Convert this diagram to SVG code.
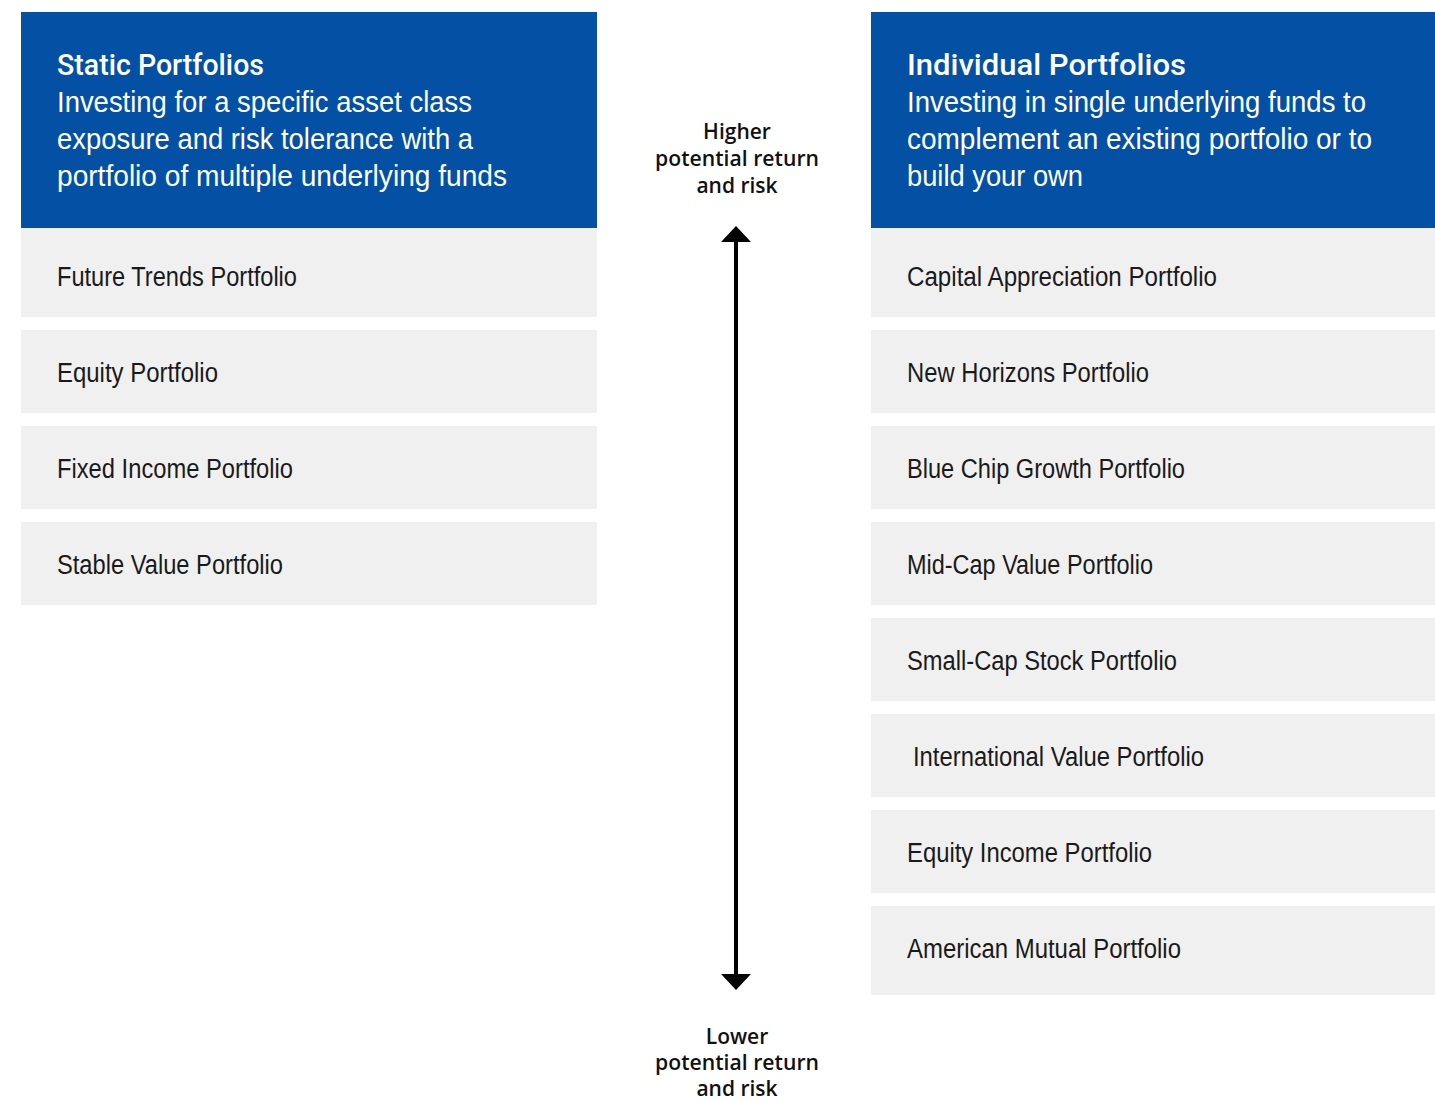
<svg xmlns="http://www.w3.org/2000/svg" width="1435" height="1101" viewBox="0 0 1435 1101">
<style>
.hdr{fill:#0450A4}
.box{fill:#F0F0F0}
.ttl{font-family:Roboto,"Liberation Sans",Arial,sans-serif;font-size:30px;font-weight:500;fill:#fff}
.sub{font-family:"Liberation Sans",Arial,sans-serif;font-size:29px;fill:#fff}
.item{font-family:"Liberation Sans",Arial,sans-serif;font-size:27px;fill:#1a1a1a}
.axis{font-family:"Open Sans","Liberation Sans",Arial,sans-serif;font-size:21px;font-weight:600;fill:#111;text-anchor:middle}
</style>
<rect width="1435" height="1101" fill="#fff"/>

<g id="static-header">
<rect class="hdr" x="21" y="12" width="576" height="216"/>
<text class="ttl" x="57" y="75" textLength="207" lengthAdjust="spacingAndGlyphs">Static Portfolios</text>
<text class="sub" x="57" y="112" textLength="415" lengthAdjust="spacingAndGlyphs">Investing for a specific asset class</text>
<text class="sub" x="57" y="149" textLength="416" lengthAdjust="spacingAndGlyphs">exposure and risk tolerance with a</text>
<text class="sub" x="57" y="186" textLength="450" lengthAdjust="spacingAndGlyphs">portfolio of multiple underlying funds</text>
</g>
<g id="static-future-trends"><rect class="box" x="21" y="228" width="576" height="89"/><text class="item" x="57" y="286" textLength="240" lengthAdjust="spacingAndGlyphs">Future Trends Portfolio</text></g>
<g id="static-equity"><rect class="box" x="21" y="330" width="576" height="83"/><text class="item" x="57" y="382" textLength="161" lengthAdjust="spacingAndGlyphs">Equity Portfolio</text></g>
<g id="static-fixed-income"><rect class="box" x="21" y="426" width="576" height="83"/><text class="item" x="57" y="478" textLength="236" lengthAdjust="spacingAndGlyphs">Fixed Income Portfolio</text></g>
<g id="static-stable-value"><rect class="box" x="21" y="522" width="576" height="83"/><text class="item" x="57" y="574" textLength="226" lengthAdjust="spacingAndGlyphs">Stable Value Portfolio</text></g>

<g id="individual-header">
<rect class="hdr" x="871" y="12" width="564" height="216"/>
<text class="ttl" x="907" y="75" textLength="279" lengthAdjust="spacingAndGlyphs">Individual Portfolios</text>
<text class="sub" x="907" y="112" textLength="459" lengthAdjust="spacingAndGlyphs">Investing in single underlying funds to</text>
<text class="sub" x="907" y="149" textLength="465" lengthAdjust="spacingAndGlyphs">complement an existing portfolio or to</text>
<text class="sub" x="907" y="186" textLength="176" lengthAdjust="spacingAndGlyphs">build your own</text>
</g>
<g id="ind-capital-appreciation"><rect class="box" x="871" y="228" width="564" height="89"/><text class="item" x="907" y="286" textLength="310" lengthAdjust="spacingAndGlyphs">Capital Appreciation Portfolio</text></g>
<g id="ind-new-horizons"><rect class="box" x="871" y="330" width="564" height="83"/><text class="item" x="907" y="382" textLength="242" lengthAdjust="spacingAndGlyphs">New Horizons Portfolio</text></g>
<g id="ind-blue-chip"><rect class="box" x="871" y="426" width="564" height="83"/><text class="item" x="907" y="478" textLength="278" lengthAdjust="spacingAndGlyphs">Blue Chip Growth Portfolio</text></g>
<g id="ind-mid-cap"><rect class="box" x="871" y="522" width="564" height="83"/><text class="item" x="907" y="574" textLength="246" lengthAdjust="spacingAndGlyphs">Mid-Cap Value Portfolio</text></g>
<g id="ind-small-cap"><rect class="box" x="871" y="618" width="564" height="83"/><text class="item" x="907" y="670" textLength="270" lengthAdjust="spacingAndGlyphs">Small-Cap Stock Portfolio</text></g>
<g id="ind-international"><rect class="box" x="871" y="714" width="564" height="83"/><text class="item" x="913" y="766" textLength="291" lengthAdjust="spacingAndGlyphs">International Value Portfolio</text></g>
<g id="ind-equity-income"><rect class="box" x="871" y="810" width="564" height="83"/><text class="item" x="907" y="862" textLength="245" lengthAdjust="spacingAndGlyphs">Equity Income Portfolio</text></g>
<g id="ind-american-mutual"><rect class="box" x="871" y="906" width="564" height="89"/><text class="item" x="907" y="958" textLength="274" lengthAdjust="spacingAndGlyphs">American Mutual Portfolio</text></g>

<g id="label-higher">
<text class="axis" x="737" y="139">Higher</text>
<text class="axis" x="737" y="166" textLength="164" lengthAdjust="spacingAndGlyphs">potential return</text>
<text class="axis" x="737" y="193">and risk</text>
</g>
<g id="label-lower">
<text class="axis" x="737" y="1044">Lower</text>
<text class="axis" x="737" y="1070" textLength="164" lengthAdjust="spacingAndGlyphs">potential return</text>
<text class="axis" x="737" y="1096">and risk</text>
</g>

<g id="connectors">
<line x1="736" y1="242" x2="736" y2="974" stroke="#000" stroke-width="4"/>
<path d="M736,226 L751,242 L721,242 Z" fill="#000"/>
<path d="M736,990 L751,974 L721,974 Z" fill="#000"/>
</g>
</svg>
